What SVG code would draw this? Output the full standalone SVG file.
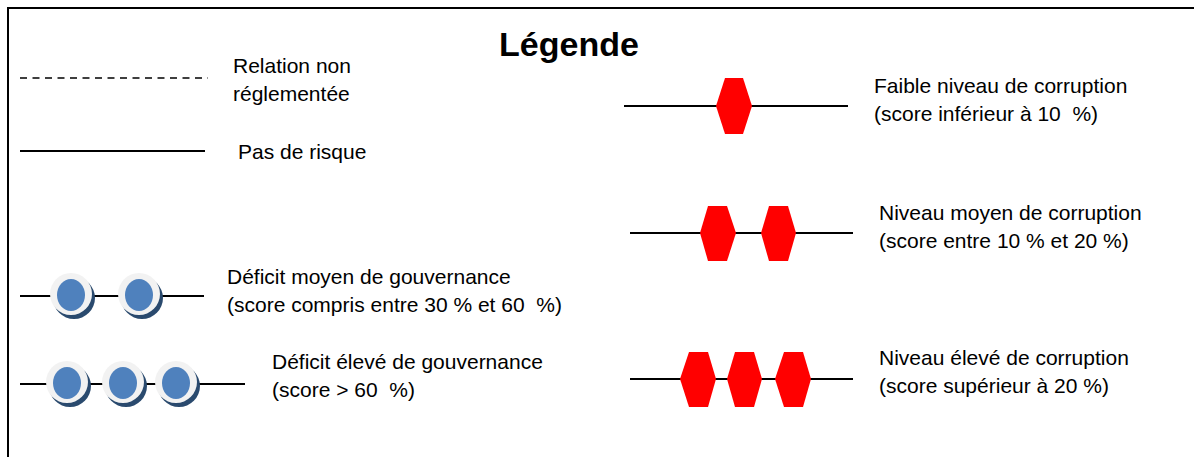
<svg xmlns="http://www.w3.org/2000/svg" width="1194" height="457" viewBox="0 0 1194 457">
<defs>
<style>
.t{font-family:"Liberation Sans",Arial,sans-serif;font-size:21px;fill:#000;white-space:pre}
.ttl{font-family:"Liberation Sans",Arial,sans-serif;font-size:34px;font-weight:bold;fill:#000}
.ln{stroke:#000;stroke-width:2;fill:none}
.dash{stroke:#000;stroke-width:1.6;stroke-dasharray:7 5.5;fill:none}
.hex{fill:#ff0000}
.sh{fill:#2a4a6e}
.ring{fill:#f2f2f2}
.dot{fill:#4f81bd}
</style>
<g id="bead">
<circle class="sh" cx="3" cy="4" r="21"/>
<circle class="ring" cx="0" cy="0" r="21"/>
<ellipse class="dot" cx="0" cy="1" rx="14" ry="16"/>
</g>
</defs>
<rect x="8" y="8" width="1190" height="460" fill="#fff" stroke="#000" stroke-width="2"/>
<text class="ttl" x="569" y="56" text-anchor="middle">Légende</text>
<g id="connectors">
<line class="dash" x1="20" y1="78" x2="208" y2="78"/>
<line class="ln" x1="20" y1="151" x2="205" y2="151"/>
<line class="ln" x1="20" y1="296" x2="204" y2="296"/>
<line class="ln" x1="20" y1="384" x2="245" y2="384"/>
<line class="ln" x1="624" y1="106" x2="848" y2="106"/>
<line class="ln" x1="630" y1="233" x2="853" y2="233"/>
<line class="ln" x1="630" y1="379" x2="853" y2="379"/>
</g>
<g id="legend-nonreg"><text class="t" x="233" y="73">Relation non</text><text class="t" x="233" y="101">réglementée</text></g>
<g id="legend-norisk"><text class="t" x="238" y="159">Pas de risque</text></g>
<g id="legend-gov-mid">
<use href="#bead" x="71" y="294"/>
<use href="#bead" x="139" y="294"/>
<text class="t" x="227" y="284">Déficit moyen de gouvernance</text>
<text class="t" x="227" y="312">(score compris entre 30 % et 60  %)</text>
</g>
<g id="legend-gov-high">
<use href="#bead" x="67" y="382"/>
<use href="#bead" x="123" y="382"/>
<use href="#bead" x="176" y="382"/>
<text class="t" x="272" y="369">Déficit élevé de gouvernance</text>
<text class="t" x="272" y="397">(score &gt; 60  %)</text>
</g>
<g id="legend-corr-low">
<polygon class="hex" points="716,106 725,78 743,78 752,106 743,134 725,134"/>
<text class="t" x="874" y="93">Faible niveau de corruption</text>
<text class="t" x="874" y="121">(score inférieur à 10  %)</text>
</g>
<g id="legend-corr-mid">
<polygon class="hex" points="700,233 708,206 727,206 736,233 727,261 708,261"/>
<polygon class="hex" points="761,233 769,206 788,206 796,233 788,261 769,261"/>
<text class="t" x="879" y="220">Niveau moyen de corruption</text>
<text class="t" x="879" y="248">(score entre 10 % et 20 %)</text>
</g>
<g id="legend-corr-high">
<polygon class="hex" points="680,379 689,352 708,352 716,379 708,407 689,407"/>
<polygon class="hex" points="727,379 735,352 754,352 762,379 754,407 735,407"/>
<polygon class="hex" points="775,379 784,352 803,352 811,379 803,407 784,407"/>
<text class="t" x="879" y="365">Niveau élevé de corruption</text>
<text class="t" x="879" y="393">(score supérieur à 20 %)</text>
</g>
</svg>
